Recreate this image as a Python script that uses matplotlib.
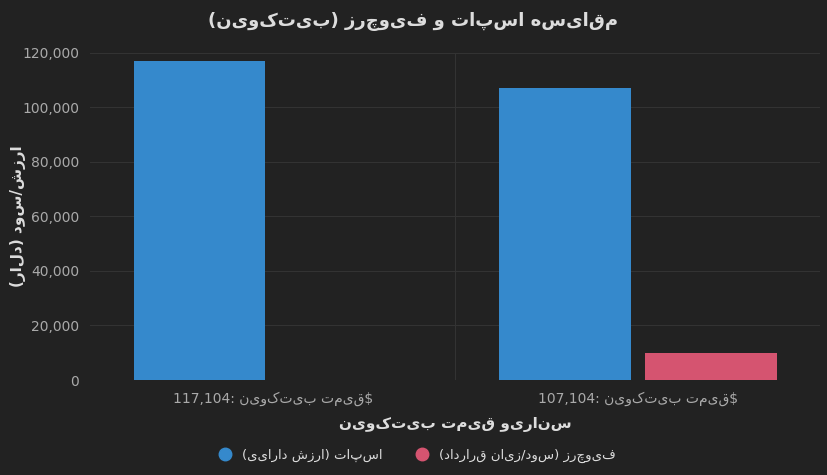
import matplotlib
matplotlib.use('Agg')
import matplotlib.pyplot as plt
import matplotlib.ticker as mtick
from matplotlib.lines import Line2D
import numpy as np

# data
prices = [117104, 107104]
spot_values = [117104, 107104]
futures_pnl = [0, 10000]

title = 'مقایسه اسپات و فیوچرز (بیت‌کوین)'
x_label = 'سناریو قیمت بیت‌کوین'
y_label = 'ارزش/سود (دلار)'
price_word = 'قیمت بیت‌کوین'
spot_name = 'اسپات (ارزش دارایی)'
fut_name = 'فیوچرز (سود/زیان قرارداد)'


def rtl(s):
    # crude visual ordering for right-to-left text (no shaping available)
    r = s[::-1]
    return r.replace('(', '\0').replace(')', '(').replace('\0', ')')


BG = '#222222'
BLUE = '#3589cc'
RED = '#d55470'
TXT = '#dddddd'

fig = plt.figure(figsize=(8.27, 4.75), dpi=100, facecolor=BG)
ax = fig.add_axes([0.109, 0.2, 0.883, 0.689])
ax.set_facecolor(BG)

x = np.arange(len(prices))
w = 0.36
ax.bar(x - 0.2, spot_values, w, color=BLUE, zorder=3)
ax.bar(x + 0.2, futures_pnl, w, color=RED, zorder=3)

ax.set_xlim(-0.5, 1.5)
ax.set_ylim(0, 120000)
ax.yaxis.set_major_locator(mtick.MultipleLocator(20000))
ax.yaxis.set_major_formatter(mtick.FuncFormatter(lambda v, p: '{:,.0f}'.format(v)))
ax.set_xticks(x)
ax.set_xticklabels(['{:,}: '.format(p) + rtl(price_word) + '$' for p in prices])
ax.grid(axis='y', color='#333333', lw=0.8, zorder=0)
ax.axvline(0.5, color='#333333', lw=0.8, zorder=0)
for s in ax.spines.values():
    s.set_visible(False)
ax.tick_params(colors='#aaaaaa', labelsize=10, length=0, pad=8)

ax.set_xlabel(rtl(x_label), color=TXT, fontsize=11, fontweight='bold', labelpad=8)
fig.text(0.022, 0.545, rtl(y_label), rotation=90, color=TXT, fontsize=11,
         fontweight='bold', ha='center', va='center')
fig.suptitle(rtl(title), color=TXT, fontsize=13, fontweight='bold', y=0.975)

handles = [Line2D([], [], marker='o', ls='', color=BLUE, markersize=9),
           Line2D([], [], marker='o', ls='', color=RED, markersize=9)]
fig.legend(handles, [rtl(spot_name), rtl(fut_name)], loc='lower center', ncol=2,
           frameon=False, labelcolor=TXT, fontsize=9.5, bbox_to_anchor=(0.5, 0.0),
           handletextpad=0.3, columnspacing=2)

plt.savefig('out.png', dpi=100, facecolor=BG)
